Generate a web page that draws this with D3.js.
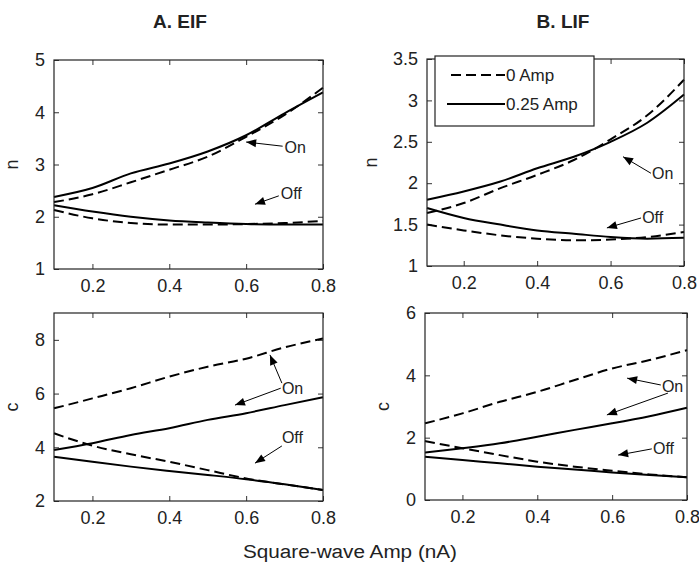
<!DOCTYPE html>
<html>
<head>
<meta charset="utf-8">
<script src="https://cdn.jsdelivr.net/npm/d3@7"></script>
<style>
  body { margin: 0; background: #fff; }
  svg { display: block; }
  text { font-family: "Liberation Sans", Arial, sans-serif; fill: #222; }
</style>
</head>
<body>
<svg width="699" height="571"></svg>
<script>
// x values shared by every curve (square-wave amplitude, nA)
const amps = [0.1, 0.2, 0.3, 0.4, 0.5, 0.6, 0.7, 0.8];
const xTicks = [0.2, 0.4, 0.6, 0.8];

// A. EIF, n
const eifN_on_0 = [2.28, 2.43, 2.66, 2.9, 3.15, 3.53, 3.95, 4.47];
const eifN_on_25 = [2.38, 2.55, 2.83, 3.02, 3.25, 3.56, 3.98, 4.38];
const eifN_off_0 = [2.13, 1.97, 1.88, 1.85, 1.85, 1.86, 1.88, 1.92];
const eifN_off_25 = [2.22, 2.1, 2.0, 1.93, 1.89, 1.86, 1.85, 1.85];

// B. LIF, n
const lifN_on_0 = [1.64, 1.76, 1.94, 2.1, 2.28, 2.53, 2.82, 3.25];
const lifN_on_25 = [1.8, 1.9, 2.02, 2.18, 2.32, 2.5, 2.73, 3.07];
const lifN_off_0 = [1.5, 1.43, 1.37, 1.33, 1.31, 1.32, 1.35, 1.41];
const lifN_off_25 = [1.7, 1.58, 1.5, 1.43, 1.39, 1.35, 1.33, 1.34];

// A. EIF, c
const eifC_on_0 = [5.45, 5.82, 6.2, 6.63, 7.0, 7.3, 7.72, 8.05];
const eifC_on_25 = [3.9, 4.15, 4.46, 4.71, 5.02, 5.27, 5.57, 5.86];
const eifC_off_0 = [4.52, 4.06, 3.74, 3.46, 3.15, 2.84, 2.62, 2.41];
const eifC_off_25 = [3.65, 3.46, 3.28, 3.12, 2.97, 2.81, 2.62, 2.41];

// B. LIF, c
const lifC_on_0 = [2.46, 2.78, 3.15, 3.47, 3.85, 4.22, 4.49, 4.81];
const lifC_on_25 = [1.52, 1.66, 1.82, 2.03, 2.25, 2.46, 2.69, 2.96];
const lifC_off_0 = [1.89, 1.66, 1.44, 1.23, 1.07, 0.94, 0.82, 0.73];
const lifC_off_25 = [1.39, 1.28, 1.18, 1.07, 0.98, 0.88, 0.8, 0.73];

const legendLabels = ["0 Amp", "0.25 Amp"];

const svg = d3.select("svg");

// note arrows: [fromX, fromY, tipX, tipY] in data units
const panels = [
  {
    box: [54, 323, 60, 269], yDomain: [1, 5], yTicks: [1, 2, 3, 4, 5], ylabel: "n", ylabOff: 36,
    title: "A. EIF", titleX: 180,
    series: [eifN_on_0, eifN_off_0, eifN_on_25, eifN_off_25],
    notes: [
      { text: "On", at: [0.70, 3.33], arrows: [[0.695, 3.35, 0.60, 3.43]] },
      { text: "Off", at: [0.69, 2.44], arrows: [[0.685, 2.40, 0.623, 2.24]] }
    ]
  },
  {
    box: [427, 684, 59, 266], yDomain: [1, 3.5], yTicks: [1, 1.5, 2, 2.5, 3, 3.5], ylabel: "n", ylabOff: 50,
    title: "B. LIF", titleX: 563, legend: true,
    series: [lifN_on_0, lifN_off_0, lifN_on_25, lifN_off_25],
    notes: [
      { text: "On", at: [0.713, 2.12], arrows: [[0.71, 2.12, 0.634, 2.32]] },
      { text: "Off", at: [0.686, 1.59], arrows: [[0.683, 1.58, 0.59, 1.46]] }
    ]
  },
  {
    box: [54, 323, 313, 501], yDomain: [2, 9], yTicks: [2, 4, 6, 8], ylabel: "c", ylabOff: 36,
    series: [eifC_on_0, eifC_off_0, eifC_on_25, eifC_off_25],
    notes: [
      { text: "On", at: [0.693, 6.2], arrows: [[0.693, 6.39, 0.662, 7.44], [0.69, 6.2, 0.571, 5.57]] },
      { text: "Off", at: [0.693, 4.35], arrows: [[0.693, 4.05, 0.623, 3.41]] }
    ]
  },
  {
    box: [425, 687, 313, 500], yDomain: [0, 6], yTicks: [0, 2, 4, 6], ylabel: "c", ylabOff: 36,
    series: [lifC_on_0, lifC_off_0, lifC_on_25, lifC_off_25],
    notes: [
      { text: "On", at: [0.733, 3.66], arrows: [[0.73, 3.69, 0.64, 3.91], [0.749, 3.43, 0.586, 2.73]] },
      { text: "Off", at: [0.709, 1.67], arrows: [[0.706, 1.64, 0.616, 1.44]] }
    ]
  }
];

function arrowHead(g, x1, y1, x2, y2) {
  const a = Math.atan2(y2 - y1, x2 - x1);
  const len = 10, half = 4;
  const bx = x2 - len * Math.cos(a), by = y2 - len * Math.sin(a);
  const px = -Math.sin(a) * half, py = Math.cos(a) * half;
  g.append("path")
    .attr("d", `M${x2},${y2}L${bx + px},${by + py}L${bx - px},${by - py}Z`)
    .attr("fill", "#000");
}

panels.forEach(p => {
  const [x0, x1, y0, y1] = p.box;
  const x = d3.scaleLinear().domain([0.1, 0.8]).range([x0, x1]);
  const y = d3.scaleLinear().domain(p.yDomain).range([y1, y0]);
  const g = svg.append("g");

  // ticks, inward on all four sides (MATLAB box)
  const tl = 5;
  g.append("g").attr("transform", `translate(0,${y1})`)
    .call(d3.axisBottom(x).tickValues(xTicks).tickSize(-tl).tickPadding(10).tickFormat(d3.format(".1f")))
    .call(a => a.select(".domain").remove());
  g.append("g").attr("transform", `translate(0,${y0})`)
    .call(d3.axisTop(x).tickValues(xTicks).tickSize(-tl).tickFormat(""))
    .call(a => a.select(".domain").remove());
  g.append("g").attr("transform", `translate(${x0},0)`)
    .call(d3.axisLeft(y).tickValues(p.yTicks).tickSize(-tl).tickPadding(9).tickFormat(d => d))
    .call(a => a.select(".domain").remove());
  g.append("g").attr("transform", `translate(${x1},0)`)
    .call(d3.axisRight(y).tickValues(p.yTicks).tickSize(-tl).tickFormat(""))
    .call(a => a.select(".domain").remove());
  g.selectAll(".tick line").attr("stroke", "#333");
  g.selectAll(".tick text").style("font-size", "18px").attr("fill", "#222")
    .style("font-family", "'Liberation Sans', Arial, sans-serif");

  const line = d3.line().x((d, i) => x(amps[i])).y(d => y(d)).curve(d3.curveMonotoneX);
  p.series.forEach((s, k) => {
    g.append("path").datum(s)
      .attr("d", line)
      .attr("fill", "none")
      .attr("stroke", "#000")
      .attr("stroke-width", 2)
      .attr("stroke-dasharray", k < 2 ? "10,5" : null);
  });

  // box
  g.append("rect").attr("x", x0).attr("y", y0).attr("width", x1 - x0).attr("height", y1 - y0)
    .attr("fill", "none").attr("stroke", "#222").attr("stroke-width", 1.2);

  // annotations
  p.notes.forEach(n => {
    n.arrows.forEach(a => {
      const fx = x(a[0]), fy = y(a[1]), tx = x(a[2]), ty = y(a[3]);
      g.append("line").attr("x1", fx).attr("y1", fy).attr("x2", tx).attr("y2", ty)
        .attr("stroke", "#000").attr("stroke-width", 1);
      arrowHead(g, fx, fy, tx, ty);
    });
    g.append("text").attr("x", x(n.at[0])).attr("y", y(n.at[1]))
      .attr("dy", "0.35em").style("font-size", "16px").text(n.text);
  });

  // y label
  g.append("text")
    .attr("transform", `translate(${x0 - p.ylabOff},${(y0 + y1) / 2}) rotate(-90)`)
    .attr("text-anchor", "middle").style("font-size", "18px").text(p.ylabel);

  if (p.title) {
    g.append("text").attr("x", p.titleX).attr("y", 28)
      .attr("text-anchor", "middle").style("font-size", "19px").style("font-weight", "bold")
      .attr("fill", "#111").text(p.title);
  }

  if (p.legend) {
    const lg = g.append("g");
    lg.append("rect").attr("x", 435).attr("y", 56).attr("width", 159).attr("height", 70)
      .attr("fill", "#fff").attr("stroke", "#222").attr("stroke-width", 1.2);
    legendLabels.forEach((lab, i) => {
      const ly = 75 + i * 29;
      lg.append("line").attr("x1", i === 0 ? 451 : 447).attr("x2", 505).attr("y1", ly).attr("y2", ly)
        .attr("stroke", "#000").attr("stroke-width", 2)
        .attr("stroke-dasharray", i === 0 ? "10,5" : null);
      lg.append("text").attr("x", 506).attr("y", ly).attr("dy", "0.35em")
        .style("font-size", "17px").text(lab);
    });
  }
});

svg.append("text").attr("x", 350).attr("y", 558).attr("text-anchor", "middle")
  .attr("textLength", 214).attr("lengthAdjust", "spacingAndGlyphs")
  .style("font-size", "18px").attr("fill", "#333").text("Square-wave Amp (nA)");
</script>
</body>
</html>
